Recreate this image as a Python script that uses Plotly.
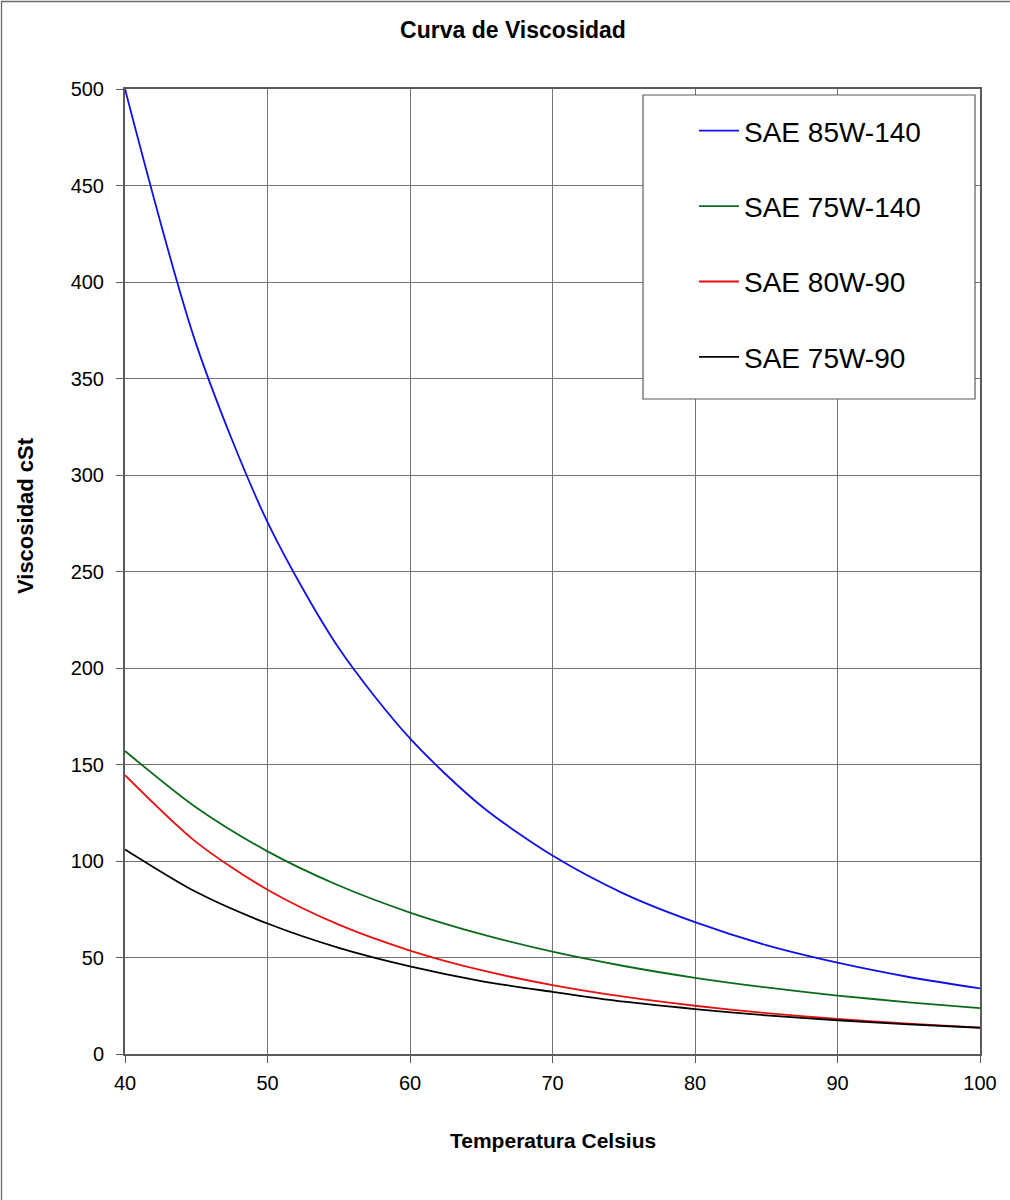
import plotly.graph_objects as go

temps = [40, 45, 50, 55, 60, 65, 70, 75, 80, 85, 90, 95, 100]
sae_85w140 = [500, 367.7, 275.6, 210.3, 163.5, 128.5, 102.8, 83.1, 68.3, 56.4, 47.3, 39.9, 34.0]
sae_75w140 = [157, 127.7, 105.0, 87.3, 73.3, 62.1, 53.0, 45.6, 39.5, 34.5, 30.3, 26.8, 23.8]
sae_80w90 = [144.5, 109.8, 85.1, 67.0, 53.6, 43.4, 35.7, 29.7, 25.0, 21.2, 18.2, 15.7, 13.7]
sae_75w90 = [106.0, 83.9, 67.6, 55.0, 45.4, 37.8, 32.2, 27.1, 23.3, 20.0, 17.5, 15.3, 13.6]

series_names = ["SAE 85W-140", "SAE 75W-140", "SAE 80W-90", "SAE 75W-90"]
series_values = [sae_85w140, sae_75w140, sae_80w90, sae_75w90]
series_colors = ["#1010e8", "#0b6b1a", "#e81010", "#000000"]

x_ticks = [40, 50, 60, 70, 80, 90, 100]
y_ticks = [0, 50, 100, 150, 200, 250, 300, 350, 400, 450, 500]

FONT = "Liberation Sans, Arial, sans-serif"

fig = go.Figure()
for name, vals, col in zip(series_names, series_values, series_colors):
    fig.add_trace(go.Scatter(
        x=temps, y=vals, name=name, mode="lines",
        line=dict(color=col, width=1.8, shape="spline", smoothing=0.8),
        legendgroup=name,
    ))

L, R, T, B = 125, 30, 89, 146
W, H = 1010, 1200
pw = W - L - R
ph = H - T - B

def px_x(p):
    return (p - L) / pw

def px_y(p):
    return (H - B - p) / ph

fig.update_layout(
    width=W, height=H,
    margin=dict(l=L, r=R, t=T, b=B, pad=0),
    paper_bgcolor="white", plot_bgcolor="white",
    font=dict(family=FONT, color="black"),
    title=dict(text="<b>Curva de Viscosidad</b>", x=513 / W, xanchor="center",
               y=1 - 30 / H, yanchor="middle", font=dict(size=23, family=FONT)),
    showlegend=True,
    legend=dict(
        x=px_x(694), y=px_y(106), xanchor="left", yanchor="top",
        bgcolor="rgba(0,0,0,0)", borderwidth=0,
        font=dict(size=28, family=FONT),
        tracegroupgap=36,
        itemwidth=40,
    ),
    xaxis=dict(
        range=[40, 100], tickvals=x_ticks, ticktext=[str(v) for v in x_ticks],
        showgrid=True, gridcolor="#737373", gridwidth=1.3,
        showline=True, linecolor="#5a5a5a", linewidth=2, mirror=True,
        ticks="outside", ticklen=7, tickcolor="#5a5a5a", tickwidth=1.3,
        ticklabelstandoff=3,
        tickfont=dict(size=20, family=FONT), zeroline=False, fixedrange=True,
    ),
    yaxis=dict(
        range=[0, 500], tickvals=y_ticks, ticktext=[str(v) for v in y_ticks],
        showgrid=True, gridcolor="#737373", gridwidth=1.3,
        showline=True, linecolor="#5a5a5a", linewidth=2, mirror=True,
        ticks="outside", ticklen=7, tickcolor="#5a5a5a", tickwidth=1.3,
        ticklabelstandoff=8,
        tickfont=dict(size=20, family=FONT), zeroline=False, fixedrange=True,
    ),
    shapes=[
        dict(type="rect", xref="paper", yref="paper",
             x0=px_x(643), x1=px_x(975), y0=px_y(399), y1=px_y(95),
             fillcolor="white", line=dict(color="#5a5a5a", width=1.2), layer="above"),
        dict(type="rect", xref="paper", yref="paper",
             x0=px_x(1.5), x1=px_x(1030), y0=px_y(1230), y1=px_y(1.5),
             fillcolor="rgba(0,0,0,0)", line=dict(color="#6a6a6a", width=1.3), layer="above"),
    ],
    annotations=[
        dict(text="<b>Viscosidad cSt</b>", xref="paper", yref="paper",
             x=px_x(25), y=px_y(516), xanchor="center", yanchor="middle",
             textangle=-90, showarrow=False, font=dict(size=22, family=FONT)),
        dict(text="<b>Temperatura Celsius</b>", xref="paper", yref="paper",
             x=px_x(553), y=px_y(1140), xanchor="center", yanchor="middle",
             showarrow=False, font=dict(size=21, family=FONT)),
    ],
)

fig.write_html("out.html", config={"displayModeBar": False},
               post_script="document.body.style.margin='0';document.body.style.padding='0';")
